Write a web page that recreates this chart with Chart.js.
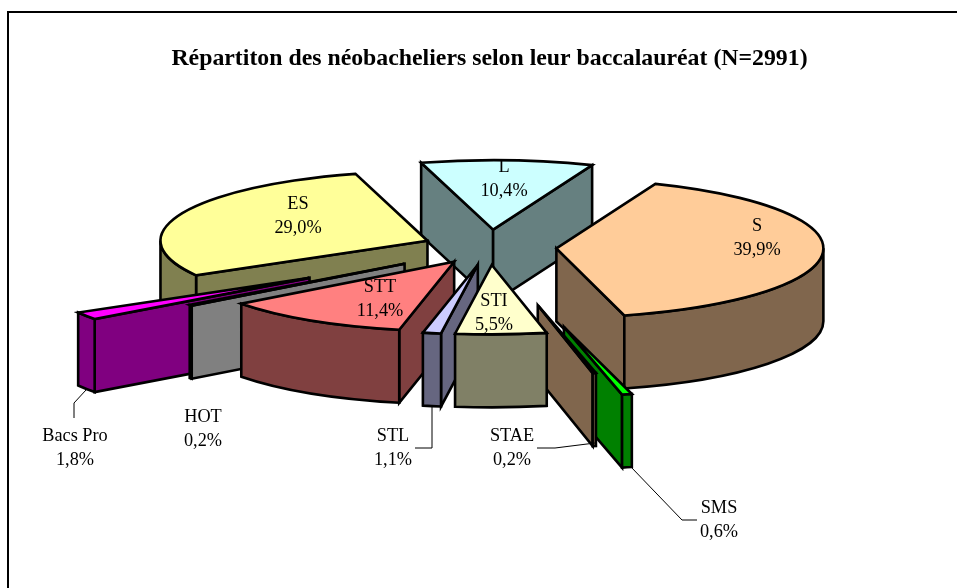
<!DOCTYPE html>
<html><head><meta charset="utf-8">
<style>html,body{margin:0;padding:0;background:#fff}canvas{display:block}</style>
<script src="https://cdn.jsdelivr.net/npm/chart.js@4/dist/chart.umd.min.js"></script>
</head><body>
<canvas id="c" width="957" height="588"></canvas>
<script>
const categories = ['L','S','SMS','STAE','STI','STL','STT','HOT','Bacs Pro','ES'];
const shares = [10.4,39.9,0.6,0.2,5.5,1.1,11.4,0.2,1.8,29.0];
const shareLabels = ['10,4%','39,9%','0,6%','0,2%','5,5%','1,1%','11,4%','0,2%','1,8%','29,0%'];
const topColors = ['#CCFFFF','#FFCC99','#00FF00','#FFCC99','#FFFFCC','#CCCCFF','#FF8080','#969696','#FF00FF','#FFFF99'];
const wallColors = ['#668080','#80664D','#008000','#80664D','#808066','#666680','#804040','#808080','#800080','#808050'];
const explode = [68,67,315,228,68,68,66,106,215,67];
const paintOrder = [0,9,1,8,7,6,2,3,5,4];
const labelCentres = [[504,167],[757,226],[719,508],[512,436],[494,301],[393,436],[380,287],[203,417],[75,436],[298,204]];
const leaders = [
  {from:[86,390],via:[74,403],to:[74,418]},
  {from:[432,405],via:[432,448],to:[415,448]},
  {from:[595,443],via:[555,448],to:[537,448]},
  {from:[631,467],via:[682,520],to:[697,520]}
];
const TILT = 0.26, DEPTH = 73, RADIUS = 267;

const pie3d = {
  id:'pie3d',
  beforeDraw(chart){
    const ctx = chart.ctx;
    ctx.save();
    ctx.strokeStyle='#000'; ctx.lineWidth=2;
    ctx.beginPath(); ctx.moveTo(8,588); ctx.lineTo(8,12); ctx.lineTo(957,12); ctx.stroke();
    ctx.restore();
  },
  beforeDatasetDraw(chart,args){
    const ctx = chart.ctx, arcs = args.meta.data;
    const place = (i,arc,h)=>{
      const mid=(arc.startAngle+arc.endAngle)/2, d=explode[i];
      ctx.translate(arc.x+Math.cos(mid)*d, arc.y+Math.sin(mid)*d*TILT+h);
      ctx.scale(1,TILT);
      ctx.translate(-arc.x,-arc.y);
    };
    const pt=(i,arc,t,r)=>{
      const mid=(arc.startAngle+arc.endAngle)/2, d=explode[i];
      return [arc.x+Math.cos(mid)*d+Math.cos(t)*r, arc.y+(Math.sin(mid)*d+Math.sin(t)*r)*TILT];
    };
    ctx.save();
    ctx.lineJoin='miter'; ctx.miterLimit=6; ctx.lineWidth=2.6; ctx.strokeStyle='#000';
    const poly=(pts,fill)=>{
      ctx.beginPath(); pts.forEach((p,k)=>k?ctx.lineTo(p[0],p[1]):ctx.moveTo(p[0],p[1]));
      ctx.closePath(); ctx.fillStyle=fill; ctx.fill(); ctx.stroke();
    };
    paintOrder.forEach(i=>{
      const arc=arcs[i], a=arc.startAngle, b=arc.endAngle, R=arc.outerRadius;
      const apex=pt(i,arc,a,0);
      const radial=t=>{
        const rim=pt(i,arc,t,R);
        poly([apex,rim,[rim[0],rim[1]+DEPTH],[apex[0],apex[1]+DEPTH]],wallColors[i]);
      };
      if (Math.cos(a) < 0) radial(a);
      if (Math.cos(b) > 0) radial(b);
      for (let k=-1;k<=1;k++){
        const t0=Math.max(a,2*Math.PI*k), t1=Math.min(b,2*Math.PI*k+Math.PI);
        if (t1<=t0) continue;
        ctx.beginPath();
        ctx.save(); place(i,arc,0); ctx.arc(arc.x,arc.y,R,t0,t1); ctx.restore();
        ctx.save(); place(i,arc,DEPTH); ctx.arc(arc.x,arc.y,R,t1,t0,true); ctx.restore();
        ctx.closePath(); ctx.fillStyle=wallColors[i]; ctx.fill(); ctx.stroke();
      }
      ctx.save(); place(i,arc,0); arc.draw(ctx); ctx.restore();
      ctx.beginPath();
      ctx.save(); place(i,arc,0); ctx.moveTo(arc.x,arc.y); ctx.arc(arc.x,arc.y,R,a,b); ctx.closePath(); ctx.restore();
      ctx.stroke();
    });
    ctx.restore();
    return false;
  },
  afterDraw(chart){
    const ctx=chart.ctx;
    ctx.save();
    ctx.strokeStyle='#000'; ctx.lineWidth=1;
    leaders.forEach(l=>{ctx.beginPath();ctx.moveTo(...l.from);ctx.lineTo(...l.via);ctx.lineTo(...l.to);ctx.stroke();});
    ctx.fillStyle='#000'; ctx.font='18.3px "Liberation Serif"'; ctx.textAlign='center'; ctx.textBaseline='middle';
    categories.forEach((c,i)=>{
      const [x,y]=labelCentres[i];
      ctx.fillText(c,x,y); ctx.fillText(shareLabels[i],x,y+24);
    });
    ctx.restore();
  }
};

new Chart(document.getElementById('c'),{
  type:'pie',
  data:{labels:categories,datasets:[{data:shares,backgroundColor:topColors,borderWidth:0,offset:0}]},
  options:{
    responsive:false,animation:false,rotation:-15.64,radius:RADIUS,
    layout:{padding:{left:22,right:0,top:40,bottom:172}},
    events:[],
    plugins:{
      legend:{display:false},tooltip:{enabled:false},
      title:{display:true,text:'Répartiton des néobacheliers selon leur baccalauréat (N=2991)',color:'#000',
        font:{family:'"Liberation Serif"',size:23.8,weight:'bold'},padding:{top:5,bottom:5}}
    }
  },
  plugins:[pie3d]
});
</script>
</body></html>
